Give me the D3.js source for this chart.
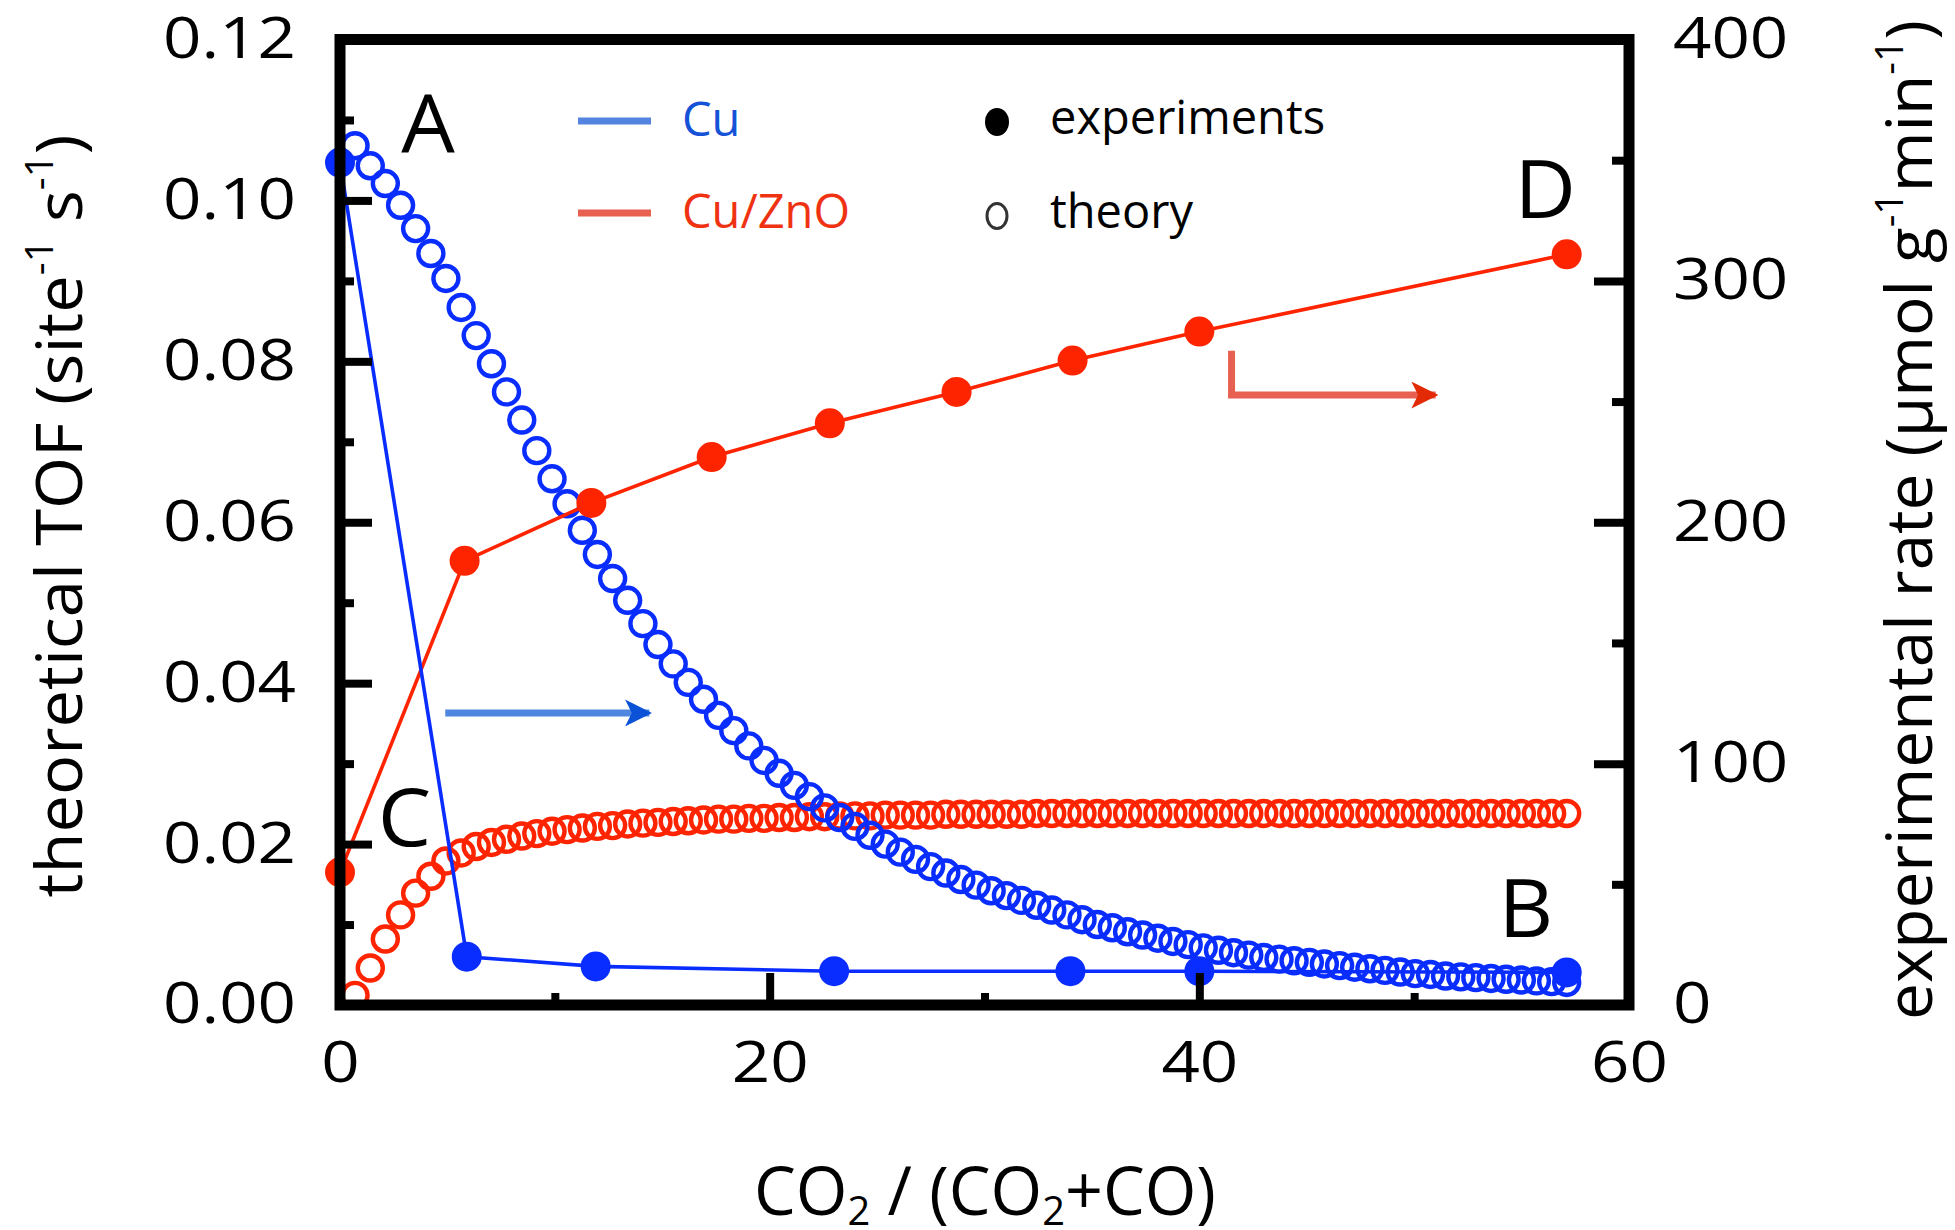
<!DOCTYPE html>
<html>
<head>
<meta charset="utf-8">
<script src="https://cdn.jsdelivr.net/npm/d3@7"></script>
<style>
  body { margin: 0; background: #fff; }
  svg { display: block; }
  text { font-family: "Open Sans", "Noto Sans", sans-serif; fill: #000; }
</style>
</head>
<body>
<div id="chart"></div>
<script>
// theory: CO2 fraction of each computed point (shared by both catalysts)
const theoryX = [
  0.70, 1.41, 2.11, 2.82, 3.52, 4.23, 4.93, 5.64, 6.34, 7.05,
  7.75, 8.46, 9.16, 9.87, 10.57, 11.28, 11.98, 12.69, 13.39, 14.10,
  14.80, 15.51, 16.21, 16.92, 17.62, 18.33, 19.03, 19.74, 20.44, 21.15,
  21.85, 22.56, 23.26, 23.97, 24.67, 25.38, 26.08, 26.79, 27.49, 28.20,
  28.90, 29.61, 30.31, 31.02, 31.72, 32.43, 33.13, 33.84, 34.54, 35.25,
  35.95, 36.66, 37.36, 38.07, 38.77, 39.48, 40.18, 40.89, 41.59, 42.30,
  43.00, 43.71, 44.41, 45.12, 45.82, 46.53, 47.23, 47.94, 48.64, 49.35,
  50.05, 50.76, 51.46, 52.17, 52.87, 53.58, 54.28, 54.99, 55.69, 56.40,
  57.10
];
// theoretical TOF (site^-1 s^-1)
const cuTheory = [
  0.1068, 0.1043, 0.1021, 0.0994, 0.0965, 0.0934, 0.0903, 0.0867, 0.0832, 0.0797,
  0.0762, 0.0727, 0.0689, 0.0654, 0.0623, 0.0590, 0.0560, 0.0530, 0.0503, 0.0474,
  0.0448, 0.0424, 0.0401, 0.0380, 0.0360, 0.0341, 0.0322, 0.0304, 0.0288, 0.0273,
  0.0259, 0.0245, 0.0233, 0.0222, 0.0211, 0.0200, 0.0190, 0.0181, 0.0172, 0.0164,
  0.0156, 0.0149, 0.0142, 0.0136, 0.0130, 0.0124, 0.0118, 0.0112, 0.0106, 0.0100,
  0.0096, 0.0091, 0.0087, 0.0083, 0.0079, 0.0075, 0.0071, 0.0068, 0.0065, 0.0062,
  0.0059, 0.0057, 0.0055, 0.0053, 0.0051, 0.0049, 0.0047, 0.0045, 0.0043, 0.0041,
  0.0039, 0.0038, 0.0036, 0.0035, 0.0034, 0.0033, 0.0032, 0.0031, 0.0030, 0.0029,
  0.0028
];
const cuZnOTheory = [
  0.0012, 0.0046, 0.0082, 0.0112, 0.0139, 0.0160, 0.0179, 0.0189, 0.0197, 0.0202,
  0.0206, 0.0210, 0.0213, 0.0216, 0.0218, 0.0220, 0.0222, 0.0223, 0.0225, 0.0226,
  0.0227, 0.0228, 0.0229, 0.0230, 0.0231, 0.0231, 0.0232, 0.0232, 0.0233, 0.0233,
  0.0234, 0.0234, 0.0235, 0.0235, 0.0235, 0.0236, 0.0236, 0.0236, 0.0236, 0.0237,
  0.0237, 0.0237, 0.0237, 0.0237, 0.0237, 0.0238, 0.0238, 0.0238, 0.0238, 0.0238,
  0.0238, 0.0238, 0.0238, 0.0238, 0.0238, 0.0238, 0.0238, 0.0238, 0.0238, 0.0238,
  0.0238, 0.0238, 0.0238, 0.0238, 0.0238, 0.0238, 0.0238, 0.0238, 0.0238, 0.0238,
  0.0238, 0.0238, 0.0238, 0.0238, 0.0238, 0.0238, 0.0238, 0.0238, 0.0238, 0.0238,
  0.0238
];

// experiments: rate (umol g^-1 min^-1)
const cuExpX = [0, 5.9, 11.9, 23.0, 34.0, 40.0, 57.1];
const cuExpRate = [349, 20, 16, 14, 14, 14, 13.5];
const cuZnOExpX = [0, 5.8, 11.7, 17.3, 22.8, 28.7, 34.1, 40.0, 57.1];
const cuZnOExpRate = [55, 184, 208, 227, 241, 254, 267, 279, 311];

// ticks
const xMajor = [0, 20, 40, 60];
const xMinor = [10, 30, 50];
const tofMajor = [0, 0.02, 0.04, 0.06, 0.08, 0.10, 0.12];
const tofMinor = [0.01, 0.03, 0.05, 0.07, 0.09, 0.11];
const rateMajor = [0, 100, 200, 300, 400];
const rateMinor = [50, 150, 250, 350];

// point labels, in data units (x, TOF at baseline)
const cornerLabels = ["A", "B", "C", "D"];
const cornerX = [4.1, 55.2, 3.0, 56.1];
const cornerTof = [0.106, 0.0084, 0.0197, 0.0978];

const BLUE = "#0a2dff";
const RED = "#ff2400";

const width = 1955;
const height = 1230;
const box = { left: 340, right: 1629, top: 39.5, bottom: 1005 };
const labelStretch = 1.2;

const svg = d3.select("#chart")
  .append("svg")
  .attr("width", width)
  .attr("height", height);

const x = d3.scaleLinear().domain([0, 60]).range([box.left, box.right]);
const yTof = d3.scaleLinear().domain([0, 0.12]).range([box.bottom, box.top]);
const yRate = d3.scaleLinear().domain([0, 400]).range([box.bottom, box.top]);

// ---- theory (open circles) ----
const theory = [
  { values: cuZnOTheory, color: RED },
  { values: cuTheory, color: BLUE },
];
theory.forEach((s) => {
  svg.append("g")
    .selectAll("circle")
    .data(theoryX.map((d, i) => [d, s.values[i]]))
    .enter()
    .append("circle")
    .attr("cx", (d) => x(d[0]))
    .attr("cy", (d) => yTof(d[1]))
    .attr("r", 12.5)
    .attr("fill", "none")
    .attr("stroke", s.color)
    .attr("stroke-width", 4.4);
});

// ---- experiments (lines + filled dots) ----
const experiments = [
  { xs: cuZnOExpX, ys: cuZnOExpRate, color: RED },
  { xs: cuExpX, ys: cuExpRate, color: BLUE },
];
const line = d3.line().x((d) => x(d[0])).y((d) => yRate(d[1]));
experiments.forEach((s) => {
  const pts = s.xs.map((d, i) => [d, s.ys[i]]);
  svg.append("path")
    .datum(pts)
    .attr("d", line)
    .attr("fill", "none")
    .attr("stroke", s.color)
    .attr("stroke-width", 3.6);
  svg.append("g")
    .selectAll("circle")
    .data(pts)
    .enter()
    .append("circle")
    .attr("cx", (d) => x(d[0]))
    .attr("cy", (d) => yRate(d[1]))
    .attr("r", 15)
    .attr("fill", s.color);
});

// ---- frame ----
svg.append("rect")
  .attr("x", box.left)
  .attr("y", box.top)
  .attr("width", box.right - box.left)
  .attr("height", box.bottom - box.top)
  .attr("fill", "none")
  .attr("stroke", "#000")
  .attr("stroke-width", 11);

// ---- axes ----
function styleAxis(g) {
  g.select(".domain").remove();
  g.selectAll(".tick line").attr("stroke", "#000").attr("stroke-width", 8);
  g.selectAll(".tick text").attr("font-size", 56).attr("fill", "#000");
}

// stretch tick labels horizontally, keeping their anchor point
function stretchLabels(g, attr) {
  g.selectAll(".tick text").each(function () {
    const t = d3.select(this);
    if (attr === "x") t.attr("x", +t.attr("x") / labelStretch);
    t.attr("transform", `scale(${labelStretch},1)`);
  });
}

const leftMinor = svg.append("g")
  .attr("transform", `translate(${box.left},0)`)
  .call(d3.axisLeft(yTof).tickValues(tofMinor).tickSize(-14).tickFormat(""));
styleAxis(leftMinor);

const leftMajor = svg.append("g")
  .attr("transform", `translate(${box.left},0)`)
  .call(d3.axisLeft(yTof).tickValues(tofMajor).tickSize(-32).tickPadding(44).tickFormat(d3.format(".2f")));
styleAxis(leftMajor);
stretchLabels(leftMajor, "x");

const rightMinor = svg.append("g")
  .attr("transform", `translate(${box.right},0)`)
  .call(d3.axisRight(yRate).tickValues(rateMinor).tickSize(-17).tickFormat(""));
styleAxis(rightMinor);

const rightMajor = svg.append("g")
  .attr("transform", `translate(${box.right},0)`)
  .call(d3.axisRight(yRate).tickValues(rateMajor).tickSize(-35).tickPadding(44).tickFormat(d3.format("d")));
styleAxis(rightMajor);
stretchLabels(rightMajor, "x");

const bottomMinor = svg.append("g")
  .attr("transform", `translate(0,${box.bottom})`)
  .call(d3.axisBottom(x).tickValues(xMinor).tickSize(-12).tickFormat(""));
styleAxis(bottomMinor);

const bottomMajor = svg.append("g")
  .attr("transform", `translate(0,${box.bottom})`)
  .call(d3.axisBottom(x).tickValues(xMajor).tickSize(-32).tickPadding(37).tickFormat(d3.format("d")));
styleAxis(bottomMajor);
stretchLabels(bottomMajor, "y");

// ---- corner labels ----
svg.append("g")
  .selectAll("text")
  .data(cornerLabels.map((d, i) => [d, cornerX[i], cornerTof[i]]))
  .enter()
  .append("text")
  .attr("transform", (d) => `translate(${x(d[1])},${yTof(d[2])}) scale(1.06,1)`)
  .attr("text-anchor", "middle")
  .attr("font-size", 80)
  .text((d) => d[0]);

// ---- arrows ----
const defs = svg.append("defs");
function arrowHead(id, color) {
  defs.append("marker")
    .attr("id", id)
    .attr("viewBox", "0 0 10 10")
    .attr("refX", 9)
    .attr("refY", 5)
    .attr("markerUnits", "userSpaceOnUse")
    .attr("markerWidth", 27)
    .attr("markerHeight", 27)
    .attr("orient", "auto")
    .append("path")
    .attr("d", "M0,0 L10,5 L0,10 L2.5,5 Z")
    .attr("fill", color);
}
arrowHead("headBlue", "#0b52d6");
arrowHead("headRed", "#e22a06");

// Cu experiments belong to the right axis
svg.append("line")
  .attr("x1", x(4.9)).attr("x2", x(14.4))
  .attr("y1", yTof(0.0363)).attr("y2", yTof(0.0363))
  .attr("stroke", "#4f86e0")
  .attr("stroke-width", 7)
  .attr("marker-end", "url(#headBlue)");

svg.append("path")
  .attr("d", d3.line()([
    [x(41.5), yRate(271)],
    [x(41.5), yRate(252.7)],
    [x(51.0), yRate(252.7)],
  ]))
  .attr("fill", "none")
  .attr("stroke", "#e8604f")
  .attr("stroke-width", 7)
  .attr("marker-end", "url(#headRed)");

// ---- legend ----
const legend = svg.append("g");
[["Cu", "#5584e0", "#1452d8", 121], ["Cu/ZnO", "#e8604f", "#ef3312", 213]].forEach(([name, lc, tc, cy]) => {
  legend.append("line")
    .attr("x1", 578).attr("x2", 651)
    .attr("y1", cy).attr("y2", cy)
    .attr("stroke", lc).attr("stroke-width", 7);
  legend.append("text")
    .attr("transform", `translate(682,${cy + 15})`)
    .attr("font-size", 47)
    .style("fill", tc)
    .text(name);
});
legend.append("ellipse")
  .attr("cx", 997).attr("cy", 122).attr("rx", 12).attr("ry", 14)
  .attr("fill", "#000");
legend.append("ellipse")
  .attr("cx", 997).attr("cy", 216).attr("rx", 10).attr("ry", 12.5)
  .attr("fill", "none").attr("stroke", "#333").attr("stroke-width", 3);
[["experiments", 119], ["theory", 213]].forEach(([name, cy]) => {
  legend.append("text")
    .attr("transform", `translate(1050,${cy + 15})`)
    .attr("font-size", 47)
    .text(name);
});

// ---- axis titles ----
function sup(t, s) {
  t.append("tspan").attr("font-size", "0.6em").attr("dy", "-0.75em").text(s);
}
function fitAlong(t, len, base) {
  const w = t.node().getComputedTextLength();
  t.attr("transform", `${base} scale(${len / w},1)`);
}

const leftTitle = svg.append("text")
  .attr("text-anchor", "middle")
  .attr("font-size", 64);
leftTitle.append("tspan").text("theoretical TOF (site");
sup(leftTitle, "-1");
leftTitle.append("tspan").attr("dy", "0.45em").text(" s");
sup(leftTitle, "-1");
leftTitle.append("tspan").attr("dy", "0.45em").text(")");
fitAlong(leftTitle, 763, "translate(82,516) rotate(-90)");

const rightTitle = svg.append("text")
  .attr("text-anchor", "middle")
  .attr("font-size", 64);
rightTitle.append("tspan").text("experimental rate (μmol g");
sup(rightTitle, "-1");
rightTitle.append("tspan").attr("dy", "0.45em").text("min");
sup(rightTitle, "-1");
rightTitle.append("tspan").attr("dy", "0.45em").text(")");
fitAlong(rightTitle, 1000, "translate(1932,520) rotate(-90)");

const bottomTitle = svg.append("text")
  .attr("text-anchor", "middle")
  .attr("font-size", 68);
bottomTitle.append("tspan").text("CO");
bottomTitle.append("tspan").attr("font-size", "0.6em").attr("dy", "0.25em").text("2");
bottomTitle.append("tspan").attr("dy", "-0.15em").text(" / (CO");
bottomTitle.append("tspan").attr("font-size", "0.6em").attr("dy", "0.25em").text("2");
bottomTitle.append("tspan").attr("dy", "-0.15em").text("+CO)");
fitAlong(bottomTitle, 462, "translate(985,1215)");
</script>
</body>
</html>
